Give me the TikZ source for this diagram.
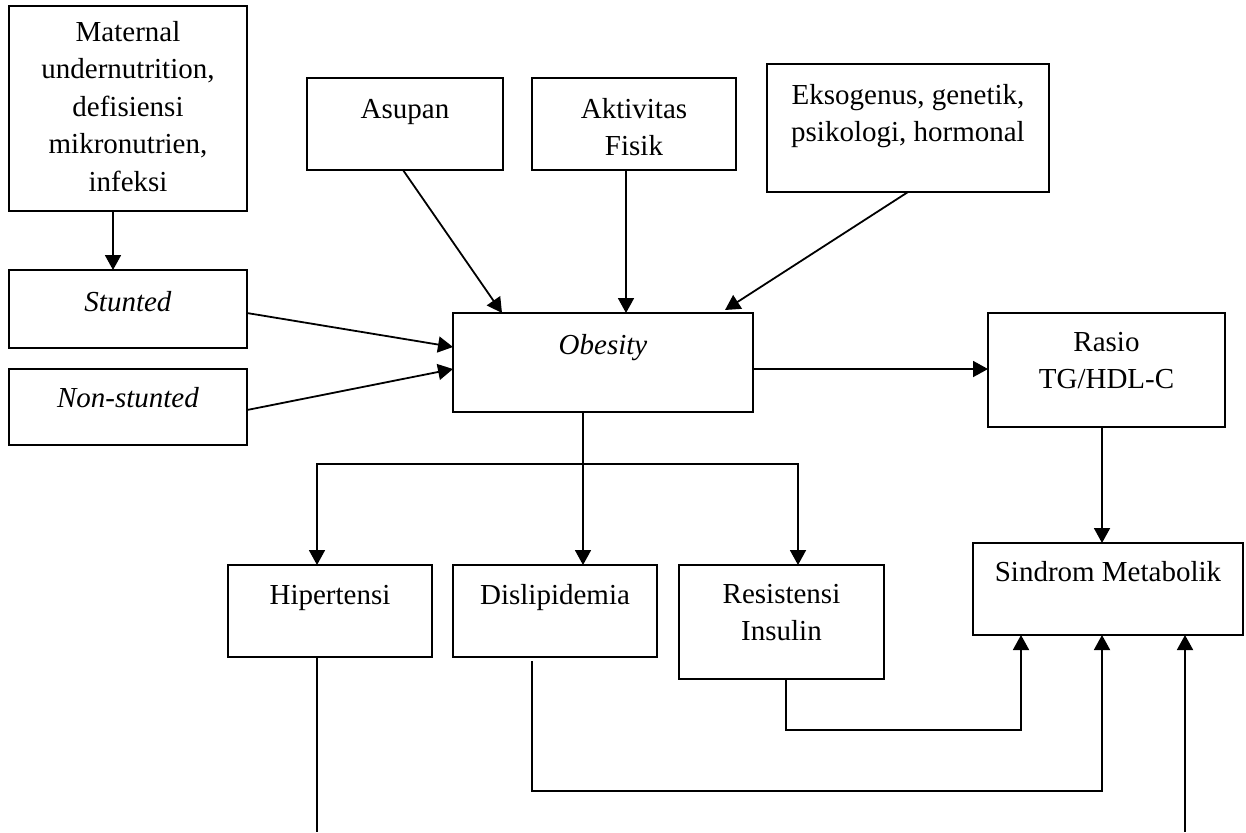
\documentclass[tikz,border=0pt]{standalone}
\usepackage{fontspec}
\setmainfont{Liberation Serif}
\usetikzlibrary{arrows.meta,calc}
\newcommand{\bt}[4]{\parbox[c][\dimexpr #2pt/2\relax][t]{\dimexpr #1pt/2\relax}{\centering\rule{0pt}{\dimexpr #3pt/2\relax}#4\par}}
\begin{document}
\begin{tikzpicture}[x=0.5pt,y=-0.5pt,
 box/.style={draw, line width=0.9pt, inner sep=0pt, outer sep=0pt, anchor=north west, font=\fontsize{14.5}{18.75}\selectfont},
 arr/.style={line width=0.9pt, -{Triangle[length=7.5pt,width=8pt]}},
 ln/.style={line width=0.9pt}]
\useasboundingbox (0,0) rectangle (1246,832);
\node[box] (mat) at (9,6) {\bt{238}{205}{35}{Maternal\\undernutrition,\\defisiensi\\mikronutrien,\\infeksi}};
\node[box] (stunted) at (9,270) {\bt{238}{78}{41}{\textit{Stunted}}};
\node[box] (nonst) at (9,369) {\bt{238}{76}{38}{\textit{Non-stunted}}};
\node[box] (asupan) at (307,78) {\bt{196}{92}{40}{Asupan}};
\node[box] (aktiv) at (532,78) {\bt{204}{92}{40}{Aktivitas\\Fisik}};
\node[box] (eksog) at (767,64) {\bt{282}{128}{40}{Eksogenus, genetik,\\psikologi, hormonal}};
\node[box] (obes) at (453,313) {\bt{300}{99}{41}{\textit{Obesity}}};
\node[box] (rasio) at (988,313) {\bt{237}{114}{38}{Rasio\\TG/HDL-C}};
\node[box] (sindrom) at (973,543) {\bt{270}{92}{38}{Sindrom Metabolik}};
\node[box] (hiper) at (228,565) {\bt{204}{92}{39}{Hipertensi}};
\node[box] (disl) at (453,565) {\bt{204}{92}{39}{Dislipidemia}};
\node[box] (resist) at (679,565) {\bt{205}{114}{38}{Resistensi\\Insulin}};
\draw[arr] ($(mat.south)+(-15,0)$) -- ($(stunted.north)+(-15,0)$);
\draw[arr] ($(stunted.east)+(0,4)$) -- ($(obes.west)+(0,-15.5)$);
\draw[arr] ($(nonst.east)+(0,3)$) -- ($(obes.west)+(0,6.5)$);
\draw[arr] ($(asupan.south)+(-2,0)$) -- ($(obes.north)+(-101,0)$);
\draw[arr] ($(aktiv.south)+(-8,0)$) -- ($(obes.north)+(23,0)$);
\draw[arr] (eksog.south) -- ($(obes.north)+(122,-3)$);
\draw[arr] ($(obes.east)+(0,6.5)$) -- ($(rasio.west)+(0,-1)$);
\draw[arr] ($(rasio.south)+(-4.5,0)$) -- ($(sindrom.north)+(-6,0)$);
\coordinate (br) at ($(obes.south)+(-20,52)$);
\draw[ln] ($(obes.south)+(-20,0)$) -- (br);
\draw[arr] (br) -- ($(disl.north)+(28,0)$);
\draw[arr] (br) -| ($(hiper.north)+(-13,0)$);
\draw[arr] (br) -| ($(resist.north)+(16.5,0)$);
\draw[arr] ($(resist.south)+(4.5,0)$) -- ++(0,51) -| ($(sindrom.south)+(-87,0)$);
\draw[arr] ($(disl.south)+(-23,4)$) -- ++(0,130) -| ($(sindrom.south)+(-6,0)$);
\coordinate (hb) at (317,832);
\coordinate (sb) at (1185,832);
\draw[ln] ($(hiper.south)+(-13,0)$) -- (hb);
\draw[arr] (sb) -- ($(sindrom.south)+(77,0)$);
\end{tikzpicture}
\end{document}
